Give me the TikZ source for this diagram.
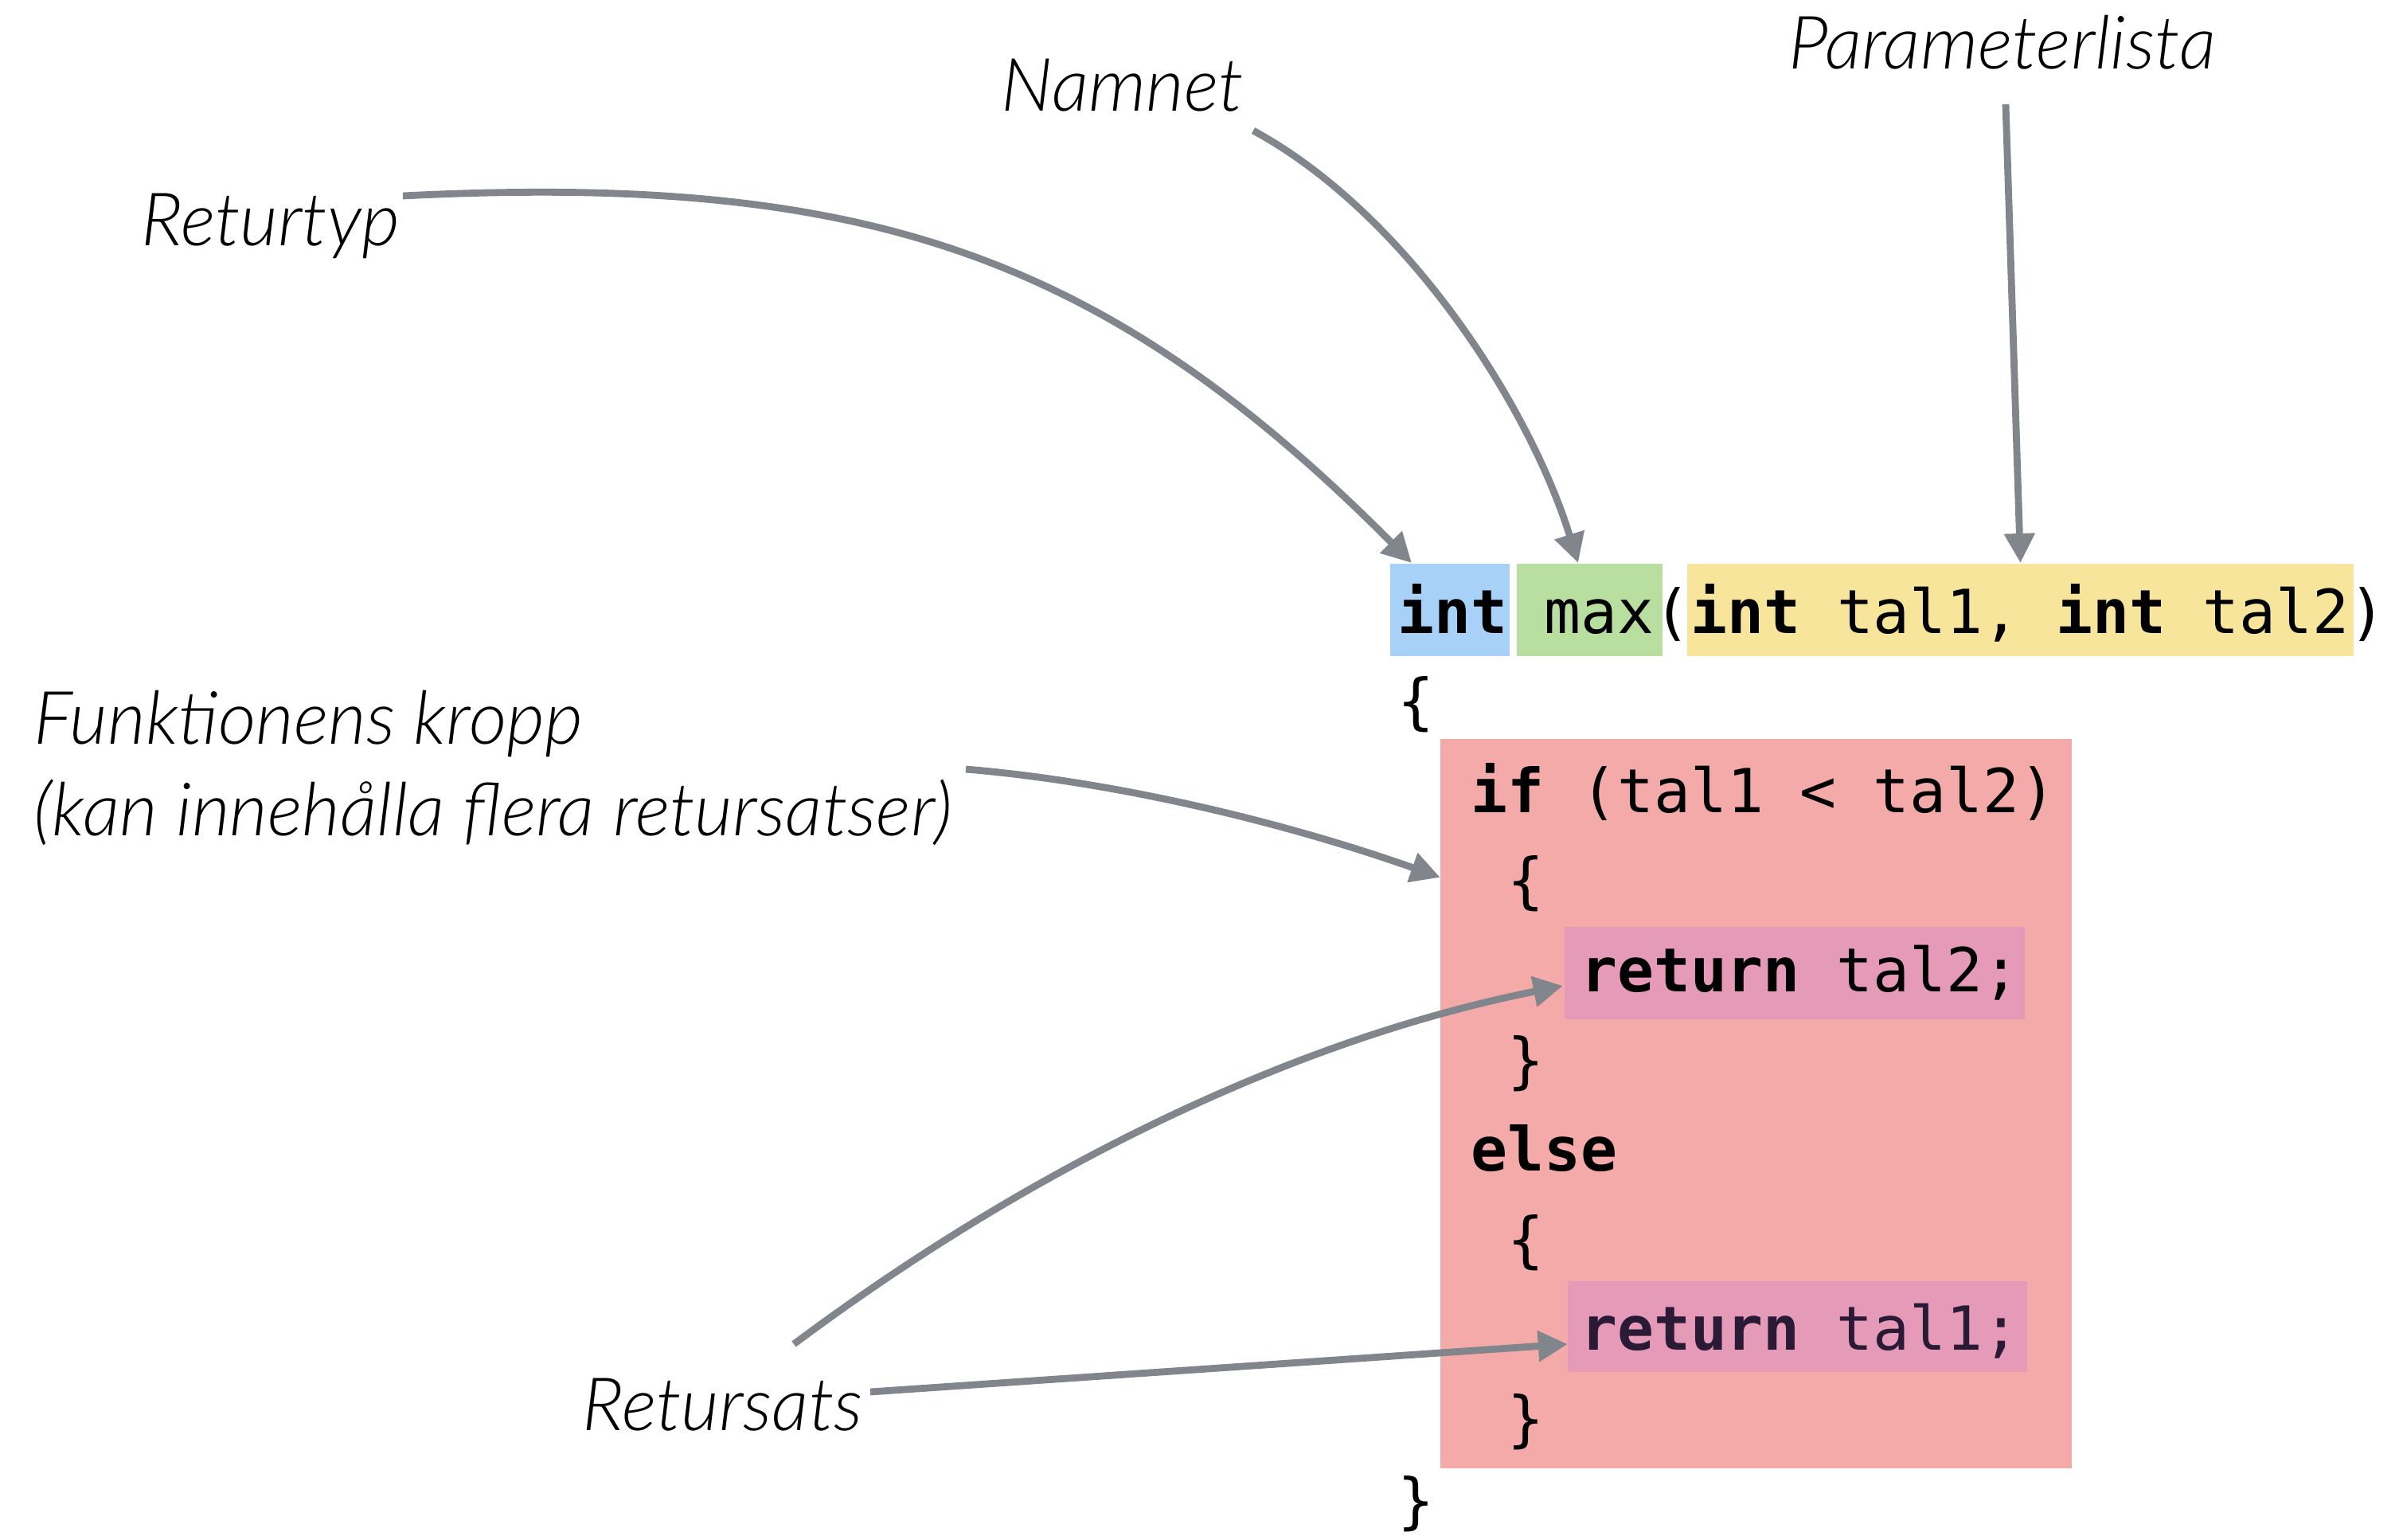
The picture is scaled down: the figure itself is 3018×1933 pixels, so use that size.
\documentclass[tikz,border=0pt]{standalone}
\usepackage{fontspec}
\setmainfont{Carlito}
\newfontfamily\lblfont{Lato Light Italic}
\newfontfamily\codefont{DejaVu Sans Mono}
\usetikzlibrary{arrows.meta}

\definecolor{arrowgray}{HTML}{80868B}
\definecolor{typeblue}{HTML}{A8D1F7}
\definecolor{namegreen}{HTML}{B8DFA0}
\definecolor{paramyellow}{HTML}{F6E59B}
\definecolor{bodyred}{HTML}{F3AAA8}
\definecolor{retpink}{HTML}{E59BB7}
\definecolor{retink}{HTML}{2A1A36}

\begin{document}
\begin{tikzpicture}[x=0.01cm, y=-0.01cm,
  lbl/.style={font=\lblfont\fontsize{26.3pt}{31pt}\selectfont, inner sep=0, anchor=base west},
  code/.style={font=\codefont\fontsize{21.7pt}{26pt}\selectfont, inner sep=0, anchor=base west},
  hl/.style={inner sep=0, outer sep=0, draw=none},
  arr/.style={draw=arrowgray, line width=2.5pt, -{Triangle[length=3.7mm, width=3.7mm]}}]

\useasboundingbox (0,0) rectangle (3018,1933);

% highlighted parts of the signature and the body
\node[hl, fill=typeblue,    minimum width=15mm,   minimum height=11.6mm] (rettype) at (1821,766) {};
\node[hl, fill=namegreen,   minimum width=18.3mm, minimum height=11.6mm] (fname)   at (1996.5,766) {};
\node[hl, fill=paramyellow, minimum width=83.7mm, minimum height=11.6mm] (params)  at (2537.5,766) {};
\node[hl, fill=bodyred,     minimum width=79.3mm, minimum height=91.6mm] (body)    at (2205.5,1386) {};
\node[hl, fill=retpink,     minimum width=57.8mm, minimum height=11.6mm] (ret1)    at (2254,1222) {};
\node[hl, fill=retpink,     minimum width=57.7mm, minimum height=11.4mm] (ret2)    at (2257.5,1666) {};

% source code, one node per line (column width 45.9, line pitch 112.6)
\node[code] (c0)  at (1755,795)    {\textbf{int} max(\textbf{int} tal1, \textbf{int} tal2)};
\node[code] (c1)  at (1755,907.6)  {\{};
\node[code] (c2)  at (1846.8,1020.2) {\textbf{if} (tal1 < tal2)};
\node[code] (c3)  at (1892.7,1132.8) {\{};
\node[code] (c4)  at (1984.5,1245.4) {\textbf{return} tal2;};
\node[code] (c5)  at (1892.7,1358)   {\}};
\node[code] (c6)  at (1846.8,1470.6) {\textbf{else}};
\node[code] (c7)  at (1892.7,1583.2) {\{};
\node[code, text=retink] (c8) at (1984.5,1695.8) {\textbf{return} tal1;};
\node[code] (c9)  at (1892.7,1808.4) {\}};
\node[code] (c10) at (1755,1911)   {\}};

% labels
\node[lbl] (lparam) at (2246,87)  {Parameterlista};
\node[lbl] (lname)  at (1257,139) {Namnet};
\node[lbl] (ltype)  at (177,308)  {Returtyp};
\node[lbl] (lbody1) at (42,934)   {Funktionens kropp};
\node[lbl] (lbody2) at (42,1049)  {(kan innehålla flera retursatser)};
\node[lbl] (lret)   at (731,1796) {Retursats};

% arrow start points next to the labels
\coordinate (sType)  at (506,246);
\coordinate (sName)  at (1574,164);
\coordinate (sParam) at (2519,131);
\coordinate (sBody)  at (1213,966);
\coordinate (sRetA)  at (997,1688);
\coordinate (sRetB)  at (1093,1748);

% connectors
\draw[arr] (sType) .. controls (1084,217) and (1386,318) .. ([xshift=2.7mm,yshift=0.1mm]rettype.north west);
\draw[arr] (sName) .. controls (1767,269) and (1921,510) .. ([xshift=-1.45mm,yshift=0.1mm]fname.north);
\draw[arr] (sParam) -- ([yshift=0.1mm]params.north);
\draw[arr] (sBody) .. controls (1405,982) and (1617,1034) .. ([yshift=28.4mm]body.west);
\draw[arr] (sRetA) .. controls (1286,1472) and (1617,1307) .. ([xshift=-0.2mm,yshift=-1.6mm]ret1.west);
\draw[arr] (sRetB) -- ([yshift=-2.2mm]ret2.west);
\end{tikzpicture}
\end{document}
